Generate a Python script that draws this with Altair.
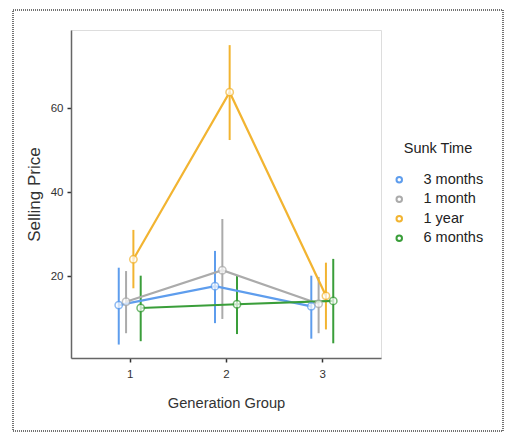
import altair as alt
import pandas as pd

groups = [1, 2, 3]
series = ["3 months", "1 month", "1 year", "6 months"]
colors = ["#5e9ded", "#ababab", "#f2b431", "#3a9e3a"]

mean_3m = [13.1, 17.6, 12.8]
low_3m = [3.7, 8.8, 5.1]
high_3m = [22.0, 26.0, 20.1]

mean_1m = [13.9, 21.4, 13.4]
low_1m = [6.4, 9.8, 6.4]
high_1m = [21.2, 33.6, 19.8]

mean_1y = [24.0, 63.8, 15.3]
low_1y = [17.1, 52.4, 7.3]
high_1y = [31.0, 75.0, 23.2]

mean_6m = [12.4, 13.3, 14.1]
low_6m = [4.5, 6.2, 4.0]
high_6m = [20.1, 20.2, 24.1]

rows = []
for i, (s, m, lo, hi) in enumerate([
    ("3 months", mean_3m, low_3m, high_3m),
    ("1 month", mean_1m, low_1m, high_1m),
    ("1 year", mean_1y, low_1y, high_1y),
    ("6 months", mean_6m, low_6m, high_6m),
]):
    for g, mv, lv, hv in zip(groups, m, lo, hi):
        rows.append({"group": g, "series": s, "idx": i,
                     "mean": mv, "low": lv, "high": hv})
df = pd.DataFrame(rows)

FONT = "Liberation Sans"
DODGE = 0.076

x_enc = alt.X(
    "xpos:Q",
    title="Generation Group",
    scale=alt.Scale(domain=[0.39, 3.61], nice=False, zero=False),
    axis=alt.Axis(
        values=groups, format="d", grid=False,
        labelAngle=0, labelFontSize=11.5, labelColor="#333333", labelPadding=6,
        tickSize=4, tickColor="#333333", tickWidth=1.5,
        domainColor="#666666", domainWidth=1.5,
        titleFontSize=14.7, titleFontWeight="normal", titleColor="#333333",
        titlePadding=16, titleFont=FONT, labelFont=FONT,
    ),
)
y_scale = alt.Scale(domain=[0.5, 78.6], nice=False, zero=False)
color_enc = alt.Color(
    "series:N", sort=series,
    scale=alt.Scale(domain=series, range=colors),
    legend=alt.Legend(
        title="Sunk Time", orient="none", legendX=321, legendY=112,
        titleFontSize=14.5, titleFontWeight="normal", titleColor="#222222",
        titleAnchor="middle", titlePadding=16,
        labelFontSize=14.5, labelColor="#222222", labelFont=FONT, titleFont=FONT,
        symbolType="circle", symbolFillColor="white", symbolStrokeWidth=2,
        symbolSize=30, rowPadding=4.5, labelOffset=17,
    ),
)

base = alt.Chart(df).transform_calculate(
    xpos=f"datum.group + (datum.idx - 1.5) * {DODGE}"
)

errbars = base.mark_rule(strokeWidth=2).encode(
    x=x_enc,
    y=alt.Y("low:Q", scale=y_scale, title="Selling Price",
            axis=alt.Axis(
                values=[20, 40, 60], grid=False, labelFontSize=11.5,
                labelColor="#333333", tickSize=4, tickColor="#333333", tickWidth=1.5,
                domainColor="#666666", domainWidth=1.5, labelPadding=4,
                titleFontSize=17, titleFontWeight="normal", titleColor="#333333",
                titlePadding=7, titleFont=FONT, labelFont=FONT,
            )),
    y2="high:Q",
    color=color_enc,
)

lines = base.mark_line(strokeWidth=2.2).encode(
    x=x_enc,
    y=alt.Y("mean:Q", scale=y_scale),
    color=color_enc,
    order="group:Q",
)

points = base.mark_point(filled=True, fill="white", size=55, strokeWidth=1.5).encode(
    x=x_enc,
    y=alt.Y("mean:Q", scale=y_scale),
    stroke=alt.Stroke("series:N", sort=series,
                      scale=alt.Scale(domain=series, range=colors), legend=None),
)

frame = alt.Chart(pd.DataFrame({"a": [0]})).mark_rect(
    fill=None, stroke="#444444", strokeWidth=1.5, strokeDash=[1, 1]
).encode(
    x=alt.value(-58), x2=alt.value(432), y=alt.value(-20), y2=alt.value(401)
)

chart = alt.layer(errbars, lines, points, frame).properties(
    width=310, height=328,
    autosize=alt.AutoSizeParams(type="none"),
    padding={"left": 71, "top": 30, "right": 124, "bottom": 76},
).configure_view(stroke=None).configure(background="white")

chart.save("out.html", embed_options={"renderer": "svg", "actions": False})
